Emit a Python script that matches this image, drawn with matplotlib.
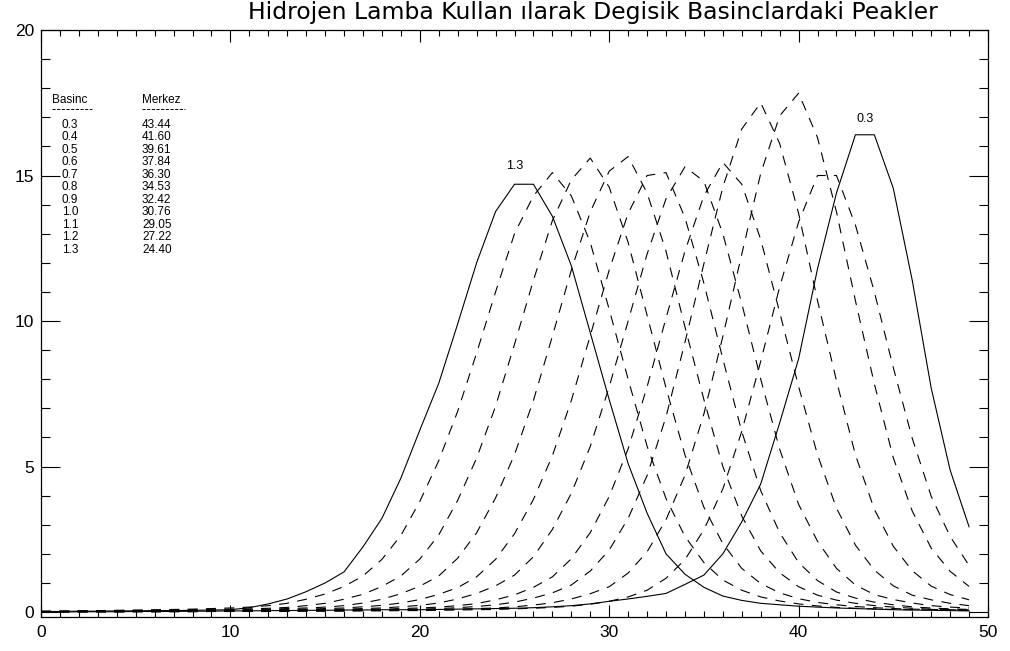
import matplotlib
matplotlib.use("Agg")
import matplotlib.pyplot as plt

plt.rcParams['font.family'] = ['Liberation Sans', 'DejaVu Sans']

# sample positions (channel number)
kanal = list(range(50))

basinc = [0.3, 0.4, 0.5, 0.6, 0.7, 0.8, 0.9, 1.0, 1.1, 1.2, 1.3]
merkez = [43.44, 41.60, 39.61, 37.84, 36.30, 34.53, 32.42, 30.76, 29.05, 27.22, 24.40]

# measured peak profiles, one list per pressure
p03 = [0.0, 0.0, 0.01, 0.01, 0.01, 0.02, 0.02, 0.02, 0.03, 0.03,
       0.04, 0.04, 0.05, 0.05, 0.06, 0.06, 0.07, 0.07, 0.08, 0.08,
       0.08, 0.09, 0.1, 0.11, 0.12, 0.13, 0.15, 0.18, 0.22, 0.28,
       0.37, 0.45, 0.54, 0.64, 0.95, 1.27, 2.0, 3.1, 4.4, 6.5,
       8.7, 11.8, 14.4, 16.4, 16.4, 14.56, 11.4, 7.7, 4.88, 2.93]
p04 = [0.01, 0.01, 0.01, 0.01, 0.01, 0.01, 0.01, 0.01, 0.01, 0.02,
       0.02, 0.02, 0.02, 0.02, 0.03, 0.03, 0.03, 0.04, 0.04, 0.05,
       0.05, 0.06, 0.07, 0.08, 0.09, 0.11, 0.13, 0.16, 0.2, 0.27,
       0.37, 0.52, 0.75, 1.16, 1.8, 2.83, 4.23, 6.21, 8.62, 11.17,
       13.4, 15.0, 15.0, 13.3, 11.0, 8.4, 5.97, 3.98, 2.6, 1.6]
p05 = [0.01, 0.01, 0.01, 0.01, 0.01, 0.01, 0.01, 0.02, 0.02, 0.02,
       0.02, 0.03, 0.03, 0.03, 0.04, 0.04, 0.05, 0.05, 0.06, 0.07,
       0.08, 0.09, 0.1, 0.12, 0.14, 0.18, 0.24, 0.32, 0.45, 0.63,
       0.87, 1.34, 2.07, 3.17, 4.7, 6.81, 9.47, 12.3, 15.07, 17.05,
       17.83, 16.3, 13.75, 10.7, 7.84, 5.3, 3.47, 2.2, 1.4, 0.88]
p06 = [0.01, 0.01, 0.01, 0.01, 0.01, 0.02, 0.02, 0.02, 0.02, 0.03,
       0.03, 0.03, 0.04, 0.04, 0.05, 0.05, 0.06, 0.07, 0.08, 0.09,
       0.1, 0.12, 0.15, 0.19, 0.25, 0.34, 0.48, 0.66, 0.93, 1.41,
       2.13, 3.22, 4.69, 6.71, 9.27, 11.97, 14.6, 16.6, 17.5, 16.1,
       13.7, 10.7, 7.95, 5.4, 3.53, 2.26, 1.42, 0.89, 0.6, 0.42]
p07 = [0.01, 0.01, 0.01, 0.02, 0.02, 0.02, 0.02, 0.03, 0.03, 0.03,
       0.04, 0.04, 0.05, 0.05, 0.06, 0.07, 0.08, 0.09, 0.1, 0.12,
       0.14, 0.17, 0.22, 0.29, 0.42, 0.59, 0.85, 1.21, 1.83, 2.73,
       3.97, 5.61, 7.74, 10.1, 12.4, 14.3, 15.45, 14.7, 12.8, 10.3,
       7.75, 5.4, 3.57, 2.3, 1.44, 0.9, 0.58, 0.42, 0.3, 0.22]
p08 = [0.01, 0.02, 0.02, 0.02, 0.02, 0.03, 0.03, 0.03, 0.04, 0.04,
       0.05, 0.05, 0.06, 0.07, 0.08, 0.09, 0.1, 0.12, 0.14, 0.18,
       0.23, 0.31, 0.45, 0.64, 0.9, 1.27, 1.9, 2.84, 4.08, 5.69,
       7.74, 10.0, 12.3, 14.2, 15.3, 14.8, 13.0, 10.6, 8.0, 5.6,
       3.7, 2.43, 1.5, 0.93, 0.6, 0.43, 0.31, 0.22, 0.17, 0.14]
p09 = [0.02, 0.02, 0.02, 0.03, 0.03, 0.03, 0.04, 0.04, 0.05, 0.05,
       0.06, 0.07, 0.08, 0.09, 0.1, 0.12, 0.14, 0.18, 0.23, 0.31,
       0.43, 0.61, 0.84, 1.21, 1.81, 2.69, 3.87, 5.37, 7.27, 9.5,
       11.75, 13.7, 15.0, 15.1, 13.55, 11.3, 8.7, 6.2, 4.17, 2.73,
       1.7, 1.08, 0.69, 0.48, 0.34, 0.25, 0.18, 0.14, 0.11, 0.09]
p10 = [0.02, 0.02, 0.03, 0.03, 0.04, 0.04, 0.05, 0.05, 0.06, 0.07,
       0.08, 0.09, 0.1, 0.12, 0.14, 0.17, 0.22, 0.31, 0.44, 0.63,
       0.89, 1.24, 1.85, 2.72, 3.92, 5.41, 7.27, 9.48, 11.75, 13.75,
       15.15, 15.65, 14.4, 12.4, 9.8, 7.3, 5.0, 3.3, 2.1, 1.35,
       0.87, 0.58, 0.41, 0.3, 0.22, 0.17, 0.13, 0.1, 0.09, 0.07]
p11 = [0.02, 0.03, 0.03, 0.04, 0.05, 0.05, 0.06, 0.07, 0.08, 0.09,
       0.1, 0.11, 0.13, 0.16, 0.22, 0.3, 0.44, 0.61, 0.88, 1.24,
       1.82, 2.65, 3.84, 5.29, 7.07, 9.2, 11.4, 13.45, 14.85, 15.6,
       14.6, 12.7, 10.2, 7.7, 5.4, 3.6, 2.35, 1.5, 0.98, 0.66,
       0.46, 0.33, 0.25, 0.19, 0.15, 0.12, 0.1, 0.09, 0.08, 0.07]
p12 = [0.03, 0.03, 0.04, 0.05, 0.06, 0.07, 0.08, 0.09, 0.1, 0.12,
       0.14, 0.17, 0.22, 0.3, 0.44, 0.62, 0.88, 1.24, 1.81, 2.63,
       3.8, 5.2, 6.9, 8.9, 11.0, 13.0, 14.3, 15.1, 14.3, 12.7,
       10.4, 8.0, 5.7, 3.9, 2.6, 1.7, 1.1, 0.75, 0.52, 0.38,
       0.28, 0.21, 0.16, 0.13, 0.11, 0.09, 0.08, 0.07, 0.06, 0.05]
p13 = [0.02, 0.02, 0.03, 0.03, 0.04, 0.04, 0.05, 0.05, 0.06, 0.07,
       0.08, 0.15, 0.28, 0.45, 0.7, 1.0, 1.38, 2.24, 3.22, 4.6,
       6.25, 7.86, 9.9, 12.0, 13.76, 14.7, 14.7, 13.6, 11.9, 9.6,
       7.3, 5.1, 3.4, 2.0, 1.3, 0.85, 0.55, 0.4, 0.3, 0.25,
       0.2, 0.17, 0.14, 0.12, 0.1, 0.08, 0.07, 0.06, 0.05, 0.04]

profiller = [p03, p04, p05, p06, p07, p08, p09, p10, p11, p12, p13]

fig = plt.figure(figsize=(10.1, 6.51), dpi=100)
ax = fig.add_axes([41 / 1010, 34 / 651, 947 / 1010, 587 / 651])

son = len(profiller) - 1
for i, y in enumerate(profiller):
    if i in (0, son):
        ax.plot(kanal, y, color='black', lw=0.8)
    else:
        ax.plot(kanal, y, color='black', lw=0.8, dashes=(9, 7.5))

# pressure label over the first and last profile (offsets in points)
for i, (dx, dy_pt) in ((0, (7, 11)), (son, (0, 13))):
    y = profiller[i]
    j = y.index(max(y))
    ax.annotate(f"{basinc[i]:.1f}", (kanal[j], y[j]), xytext=(dx, dy_pt),
                textcoords='offset points', ha='center', va='center', fontsize=9)

ax.set_xlim(0, 50)
ax.set_ylim(-0.17, 20)
ax.set_xticks(range(0, 51, 10))
ax.set_xticks(range(0, 51, 1), minor=True)
ax.set_yticks(range(0, 21, 5))
ax.set_yticks(range(0, 21, 1), minor=True)
ax.tick_params(which='both', direction='in', top=True, right=True, width=0.8)
ax.tick_params(axis='x', which='major', length=8.4, pad=6)
ax.tick_params(axis='x', which='minor', length=4.2)
ax.tick_params(axis='y', which='major', length=13.7, pad=5)
ax.tick_params(axis='y', which='minor', length=6.8)
for lab in ax.get_xticklabels() + ax.get_yticklabels():
    lab.set_fontfamily(['Liberation Sans Narrow', 'Liberation Sans'])
    lab.set_fontsize(12.5)
for s in ax.spines.values():
    s.set_linewidth(0.9)

baslik = fig.text(593 / 1010, 1 - 13 / 651,
                  "Hidrojen Lamba Kullan ılarak Degisik Basinclardaki Peakler",
                  ha='center', va='center', fontsize=15, family='DejaVu Sans')
# stretch the title to span roughly 690 px
fig.canvas.draw()
w = baslik.get_window_extent().width
baslik.set_fontsize(15 * 690 / w)

# pressure / centre table in the upper left corner
tx1, tx2 = (70 - 41) / 947, (142 - 41) / 947
ty0 = (617 - 100) / 587
dy = 12.45 / 587
ax.text(tx1, ty0, "Basinc", transform=ax.transAxes, ha='center', va='center', fontsize=8.5)
ax.text(tx2, ty0, "Merkez", transform=ax.transAxes, ha='left', va='center', fontsize=8.5)
# dashed underlines below the two headers
yc = (617 - 108.5) / 587
for x0, x1 in ((52, 92), (142, 185)):
    ax.plot([(x0 - 41) / 947, (x1 - 41) / 947], [yc, yc], transform=ax.transAxes,
            color='black', lw=0.7, dashes=(3.2, 1.6))
for k, (b, m) in enumerate(zip(basinc, merkez)):
    yy = ty0 - (k + 1.85) * dy - 2 / 587
    ax.text(tx1, yy, f"{b:.1f}", transform=ax.transAxes, ha='center', va='center', fontsize=8.5)
    ax.text(tx2, yy, f"{m:.2f}", transform=ax.transAxes, ha='left', va='center', fontsize=8.5)

fig.savefig("out.png", dpi=100)
